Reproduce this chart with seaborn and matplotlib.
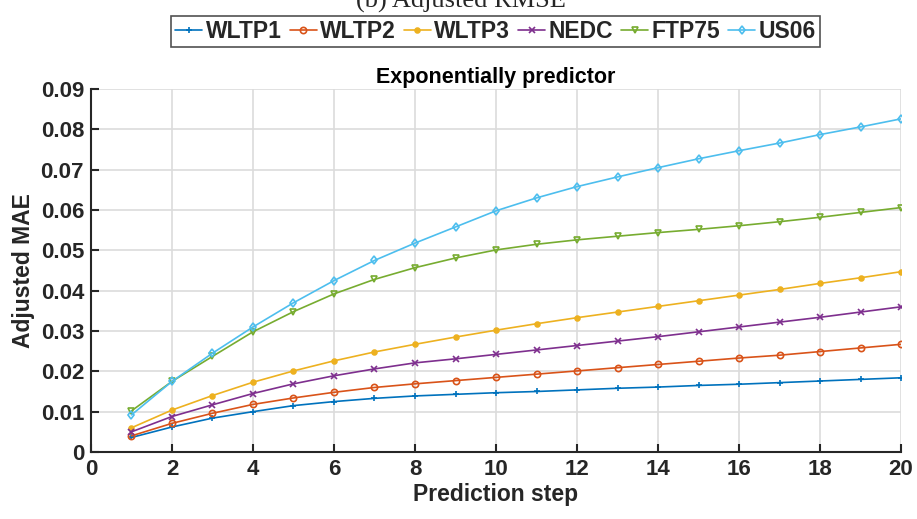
import numpy as np
import pandas as pd
import seaborn as sns
from matplotlib import pyplot as plt

steps = list(range(1, 21))

wltp1 = [0.0036, 0.0062, 0.0084, 0.0100, 0.0115, 0.0125, 0.0133, 0.0139, 0.0143, 0.0147,
         0.0150, 0.0154, 0.0158, 0.0161, 0.0165, 0.0168, 0.0172, 0.0176, 0.0180, 0.0184]
wltp2 = [0.0040, 0.0071, 0.0096, 0.0118, 0.0134, 0.0148, 0.0160, 0.0169, 0.0177, 0.0185,
         0.0193, 0.0201, 0.0209, 0.0217, 0.0225, 0.0233, 0.0240, 0.0249, 0.0258, 0.0267]
wltp3 = [0.0060, 0.0104, 0.0140, 0.0173, 0.0201, 0.0226, 0.0248, 0.0267, 0.0285, 0.0302,
         0.0318, 0.0333, 0.0347, 0.0361, 0.0375, 0.0389, 0.0403, 0.0418, 0.0432, 0.0447]
nedc = [0.0050, 0.0088, 0.0117, 0.0145, 0.0169, 0.0189, 0.0206, 0.0221, 0.0231, 0.0242,
        0.0253, 0.0264, 0.0275, 0.0286, 0.0298, 0.0310, 0.0322, 0.0334, 0.0347, 0.0360]
ftp75 = [0.0102, 0.0175, 0.0237, 0.0298, 0.0348, 0.0392, 0.0428, 0.0457, 0.0481, 0.0501,
         0.0515, 0.0526, 0.0535, 0.0544, 0.0552, 0.0561, 0.0571, 0.0582, 0.0594, 0.0606]
us06 = [0.0092, 0.0175, 0.0245, 0.0310, 0.0370, 0.0425, 0.0475, 0.0518, 0.0558, 0.0598,
        0.0630, 0.0658, 0.0682, 0.0705, 0.0727, 0.0747, 0.0766, 0.0787, 0.0806, 0.0826]

names = ['WLTP1', 'WLTP2', 'WLTP3', 'NEDC', 'FTP75', 'US06']
series = [wltp1, wltp2, wltp3, nedc, ftp75, us06]

xticks = list(range(0, 21, 2))
yticks = [0, 0.01, 0.02, 0.03, 0.04, 0.05, 0.06, 0.07, 0.08, 0.09]
ytick_labels = ['0', '0.01', '0.02', '0.03', '0.04', '0.05', '0.06', '0.07', '0.08', '0.09']

# matlab default colour order
colors = ['#0072BD', '#D95319', '#EDB120', '#7E2F8E', '#77AC30', '#4DBEEE']
markers = ['+', 'o', '.', 'x', 'v', 'd']

df = pd.DataFrame({
    'step': steps * len(names),
    'value': np.concatenate(series),
    'cycle': np.repeat(names, len(steps)),
})

sns.set_theme(style='whitegrid')
plt.rcParams['font.family'] = ['Liberation Sans', 'DejaVu Sans']
plt.rcParams['font.weight'] = 'bold'

fig = plt.figure(figsize=(9.17, 5.19), dpi=100)
ax = fig.add_axes([0.0992, 0.1291, 0.8834, 0.6994])

for name, c, m in zip(names, colors, markers):
    sub = df[df.cycle == name]
    filled = m in ['+', '.', 'x']
    sns.lineplot(data=sub, x='step', y='value', ax=ax, color=c, marker=m,
                 markersize=7 if m == '.' else 4.5, linewidth=1.2,
                 markerfacecolor=c if filled else 'none', markeredgecolor=c,
                 markeredgewidth=1.2, label=name)

ax.set_xlim(0, 20)
ax.set_ylim(0, 0.09)
ax.set_xticks(xticks)
ax.set_yticks(yticks)
ax.set_yticklabels(ytick_labels)
ax.tick_params(axis='both', labelsize=16, direction='in', length=6, width=1.5,
               colors='#262626', left=True, bottom=True, pad=5)
for lbl in ax.get_xticklabels() + ax.get_yticklabels():
    lbl.set_fontweight('bold')
    lbl.set_color('#262626')

ax.grid(True, color='#dcdcdc', linewidth=1.2)
for s in ['top', 'right']:
    ax.spines[s].set_visible(False)
for s in ['left', 'bottom']:
    ax.spines[s].set_color('#262626')
    ax.spines[s].set_linewidth(1.5)

ax.set_xlabel('Prediction step', fontsize=16.5, fontweight='bold', color='#262626', labelpad=2)
ax.set_ylabel('Adjusted MAE', fontsize=16.5, fontweight='bold', color='#262626', labelpad=4)
ax.set_title('Exponentially predictor', fontsize=15.5, fontweight='bold', color='black', pad=4)

leg = fig.legend(*ax.get_legend_handles_labels(), loc='center', bbox_to_anchor=(0.5405, 0.940),
                 ncol=6, frameon=True, fancybox=False, edgecolor='#262626',
                 handlelength=1.18, handletextpad=0.15, columnspacing=0.35, borderpad=0.18,
                 borderaxespad=0, prop={'weight': 'bold', 'size': 16.5})
leg.get_frame().set_linewidth(1.2)
ax.get_legend().remove()

fig.text(0.503, 0.9846, '(b) Adjusted RMSE', ha='center', va='baseline', fontsize=19,
         family='Liberation Serif', fontweight='normal')

plt.savefig('out.png', dpi=100)
